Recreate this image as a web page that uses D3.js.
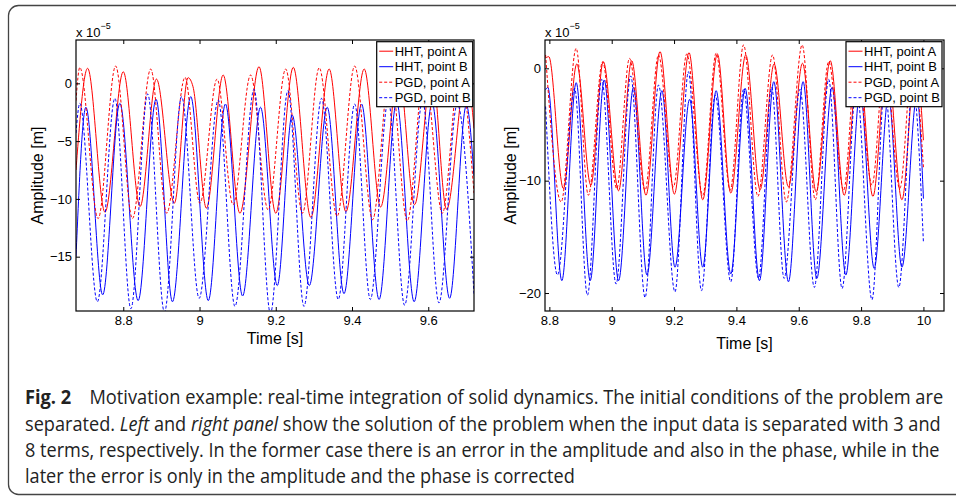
<!DOCTYPE html>
<html>
<head>
<meta charset="utf-8">
<script src="https://cdn.jsdelivr.net/npm/d3@7"></script>
<style>
  body { margin: 0; background: #fff; }
  svg { display: block; }
  .tick text { font-family: "Liberation Sans", Arial, sans-serif; font-size: 13px; fill: #000; }
  .caption { font-family: "Open Sans", sans-serif; font-size: 20px; fill: #222; }
</style>
</head>
<body>
<svg id="fig" width="956" height="497"></svg>
<script>
/** Values: [time (s), amplitude (x 1e-5 m)] at peaks and troughs */
const leftHhtA = [[8.676,-7.5],[8.7065,1.30],[8.752,-11.15],[8.800,1.0],[8.844,-10.66],[8.887,0.37],[8.934,-10.37],[8.970,0.49],[8.983,-0.3],[9.018,-10.8],[9.062,0.72],[9.106,-11.24],[9.156,1.44],[9.200,-11.24],[9.246,1.38],[9.292,-11.6],[9.340,1.24],[9.384,-11.1],[9.432,1.24],[9.475,-10.7],[9.522,1.2],[9.564,-10.5],[9.610,1.1],[9.648,-10.9],[9.700,1.0],[9.72,-3.9]];
const leftHhtB = [[8.676,-15.0],[8.702,-2.07],[8.746,-18.3],[8.791,-1.73],[8.839,-18.8],[8.886,-1.38],[8.929,-18.9],[8.977,-1.15],[9.023,-18.8],[9.068,-1.79],[9.113,-18.4],[9.160,-2.07],[9.204,-17.5],[9.243,-2.74],[9.288,-17.5],[9.335,-2.07],[9.379,-18.2],[9.425,-1.79],[9.471,-18.7],[9.517,-1.6],[9.563,-18.9],[9.610,-1.7],[9.656,-18.6],[9.700,-1.9],[9.72,-8.0]];
const leftPgdA = [[8.676,-1.5],[8.686,1.38],[8.734,-11.7],[8.780,1.50],[8.824,-11.7],[8.872,1.24],[8.914,-11.24],[8.962,0.52],[9.001,-10.37],[9.046,0.37],[9.088,-10.5],[9.134,0.72],[9.180,-10.95],[9.226,1.24],[9.270,-11.24],[9.314,1.35],[9.361,-11.5],[9.407,1.50],[9.454,-11.8],[9.500,1.3],[9.545,-11.9],[9.590,1.2],[9.637,-11.24],[9.682,1.2],[9.72,-9.5]];
const leftPgdB = [[8.676,-4.3],[8.686,-1.73],[8.732,-18.9],[8.778,-1.3],[8.820,-19.5],[8.864,-0.92],[8.908,-19.8],[8.953,-1.15],[8.999,-18.6],[9.049,-1.44],[9.093,-19.3],[9.143,-0.52],[9.186,-19.9],[9.232,-0.63],[9.274,-19.3],[9.320,-1.3],[9.364,-18.7],[9.407,-1.79],[9.448,-18.7],[9.495,-1.5],[9.538,-19.2],[9.585,-1.5],[9.628,-19.0],[9.676,-1.8],[9.72,-18.2]];

const rightHhtA = [[8.788,0.9],[8.798,1.04],[8.845,-10.7],[8.888,0.39],[8.933,-10.4],[8.973,0.59],[9.022,-10.9],[9.064,0.68],[9.110,-11.3],[9.155,1.49],[9.201,-11.2],[9.248,1.40],[9.292,-11.7],[9.339,1.28],[9.382,-11.1],[9.430,1.19],[9.476,-10.8],[9.521,0.39],[9.567,-10.55],[9.612,0.45],[9.656,-11.0],[9.701,0.68],[9.746,-11.3],[9.792,0.9],[9.838,-11.4],[9.883,0.9],[9.931,-11.7],[9.975,0.8],[10.0,-6.4]];
const rightHhtB = [[8.788,-1.9],[8.795,-1.7],[8.840,-18.9],[8.886,-1.28],[8.931,-18.9],[8.976,-1.04],[9.022,-18.9],[9.070,-1.69],[9.113,-18.4],[9.161,-1.99],[9.203,-17.7],[9.250,-2.76],[9.292,-17.7],[9.335,-1.99],[9.382,-18.3],[9.428,-1.78],[9.474,-18.9],[9.520,-1.19],[9.567,-19.0],[9.614,-1.19],[9.658,-18.7],[9.707,-1.69],[9.751,-18.4],[9.797,-2.0],[9.842,-17.8],[9.888,-2.5],[9.931,-17.7],[9.979,-2.5],[10.0,-11.6]];
const rightPgdA = [[8.788,1.19],[8.838,-11.9],[8.886,1.78],[8.925,-11.3],[8.971,0.59],[9.016,-10.7],[9.057,0.89],[9.107,-10.85],[9.150,1.19],[9.198,-10.55],[9.241,1.28],[9.292,-11.3],[9.335,1.34],[9.380,-10.85],[9.423,2.08],[9.469,-11.4],[9.516,1.19],[9.560,-11.9],[9.611,2.08],[9.653,-11.7],[9.696,0.59],[9.744,-10.85],[9.785,1.0],[9.835,-10.4],[9.876,1.0],[9.924,-10.7],[9.966,1.0],[10.0,-8.8]];
const rightPgdB = [[8.788,-3.4],[8.826,-18.4],[8.881,-1.78],[8.922,-20.2],[8.968,-0.98],[9.014,-19.2],[9.061,-0.68],[9.107,-20.4],[9.150,-1.49],[9.203,-19.9],[9.246,-0.30],[9.288,-19.8],[9.332,-2.38],[9.382,-19.0],[9.423,-1.87],[9.471,-18.7],[9.513,-1.69],[9.553,-18.7],[9.604,-1.87],[9.650,-19.5],[9.696,-0.98],[9.739,-19.6],[9.785,-1.5],[9.835,-20.6],[9.876,-1.5],[9.921,-19.5],[9.966,-1.5],[10.0,-15.5]];

/** Ticks and labels */
const leftXTicks = [8.8, 9, 9.2, 9.4, 9.6];
const leftYTicks = [0, -5, -10, -15];
const rightXTicks = [8.8, 9, 9.2, 9.4, 9.6, 9.8, 10];
const rightYTicks = [0, -10, -20];
const legendLabels = ["HHT, point A", "HHT, point B", "PGD, point A", "PGD, point B"];
const xLabel = "Time [s]";
const yLabel = "Amplitude [m]";

const captionLines = [
  [{t: "Fig. 2", b: true}, {t: "\u2003Motivation example: real-time integration of solid dynamics. The initial conditions of the problem are"}],
  [{t: "separated. "}, {t: "Left", i: true}, {t: " and "}, {t: "right panel", i: true}, {t: " show the solution of the problem when the input data is separated with 3 and"}],
  [{t: "8 terms, respectively. In the former case there is an error in the amplitude and also in the phase, while in the"}],
  [{t: "later the error is only in the amplitude and the phase is corrected"}]
];

const svg = d3.select("#fig");
const font = "'Liberation Sans', Arial, sans-serif";

/** Outer frame */
svg.append("rect")
  .attr("x", 8.5).attr("y", 5.5)
  .attr("width", 980).attr("height", 489)
  .attr("rx", 10).attr("ry", 10)
  .attr("fill", "none")
  .attr("stroke", "#444")
  .attr("stroke-width", 1.3);

const seriesStyle = [
  {color: "#ff0000", dash: null},
  {color: "#0000ff", dash: null},
  {color: "#ff0000", dash: "3,2"},
  {color: "#0000ff", dash: "3,2"}
];

function drawPanel(cfg) {
  const x = d3.scaleLinear().domain(cfg.xDomain).range([cfg.x0, cfg.x1]);
  const y = d3.scaleLinear().domain(cfg.yDomain).range([cfg.y1, cfg.y0]);

  const g = svg.append("g").attr("id", cfg.id);

  g.append("clipPath").attr("id", cfg.id + "-clip")
    .append("rect")
    .attr("x", cfg.x0).attr("y", cfg.y0)
    .attr("width", cfg.x1 - cfg.x0).attr("height", cfg.y1 - cfg.y0);

  /** Curves */
  const line = d3.line()
    .x(d => x(d[0]))
    .y(d => y(d[1]))
    .curve(d3.curveMonotoneX);

  const lines = g.append("g").attr("clip-path", "url(#" + cfg.id + "-clip)");
  cfg.series.forEach((s, i) => {
    lines.append("path")
      .datum(s)
      .attr("d", line)
      .attr("fill", "none")
      .attr("stroke", seriesStyle[i].color)
      .attr("stroke-width", 1)
      .attr("stroke-dasharray", seriesStyle[i].dash);
  });

  /** Axes, ticks pointing inward like MATLAB */
  const fmt = d => d3.format("")(d).replace("-", "\u2212");
  g.append("g")
    .attr("transform", "translate(0," + cfg.y1 + ")")
    .call(d3.axisBottom(x).tickValues(cfg.xTicks).tickFormat(fmt).tickSizeInner(-4).tickSizeOuter(0).tickPadding(5));
  g.append("g")
    .attr("transform", "translate(0," + cfg.y0 + ")")
    .call(d3.axisTop(x).tickValues(cfg.xTicks).tickFormat("").tickSizeInner(-4).tickSizeOuter(0));
  g.append("g")
    .attr("transform", "translate(" + cfg.x0 + ",0)")
    .call(d3.axisLeft(y).tickValues(cfg.yTicks).tickFormat(fmt).tickSizeInner(-4).tickSizeOuter(0).tickPadding(4));
  g.append("g")
    .attr("transform", "translate(" + cfg.x1 + ",0)")
    .call(d3.axisRight(y).tickValues(cfg.yTicks).tickFormat("").tickSizeInner(-4).tickSizeOuter(0));
  g.selectAll(".domain").remove();
  g.selectAll(".tick line").attr("stroke", "#000");

  g.append("rect")
    .attr("x", cfg.x0).attr("y", cfg.y0)
    .attr("width", cfg.x1 - cfg.x0).attr("height", cfg.y1 - cfg.y0)
    .attr("fill", "none").attr("stroke", "#000").attr("stroke-width", 1.2);

  /** Exponent label */
  const expo = g.append("text")
    .attr("x", cfg.x0).attr("y", 37)
    .style("font-family", font).style("font-size", "13px");
  expo.append("tspan").text("x 10");
  expo.append("tspan").attr("dy", -8).style("font-size", "9px").text("\u22125");

  /** Axis titles */
  g.append("text")
    .attr("x", (cfg.x0 + cfg.x1) / 2).attr("y", cfg.xLabelY)
    .attr("text-anchor", "middle")
    .style("font-family", font).style("font-size", "16px")
    .text(xLabel);
  g.append("text")
    .attr("transform", "translate(" + cfg.yLabelX + "," + ((cfg.y0 + cfg.y1) / 2) + ") rotate(-90)")
    .attr("text-anchor", "middle")
    .style("font-family", font).style("font-size", "16px")
    .text(yLabel);

  /** Legend */
  const lg = g.append("g").attr("transform", "translate(" + cfg.legend.x + "," + cfg.legend.y + ")");
  lg.append("rect")
    .attr("width", cfg.legend.w).attr("height", 65)
    .attr("fill", "#fff").attr("stroke", "#000").attr("stroke-width", 1.2);
  legendLabels.forEach((label, i) => {
    const ly = 9.5 + i * 15.5;
    lg.append("line")
      .attr("x1", 2.5).attr("x2", 16.5).attr("y1", ly).attr("y2", ly)
      .attr("stroke", seriesStyle[i].color).attr("stroke-width", 1)
      .attr("stroke-dasharray", seriesStyle[i].dash);
    lg.append("text")
      .attr("x", 18).attr("y", ly + 4.7)
      .style("font-family", font).style("font-size", "13px")
      .text(label);
  });
}

drawPanel({
  id: "left", x0: 76, x1: 474, y0: 40, y1: 311,
  xDomain: [8.676, 9.72], yDomain: [-19.7, 3.75],
  xTicks: leftXTicks, yTicks: leftYTicks,
  series: [leftHhtA, leftHhtB, leftPgdA, leftPgdB],
  xLabelY: 344, yLabelX: 43,
  legend: {x: 376.7, y: 41.7, w: 96}
});

drawPanel({
  id: "right", x0: 545, x1: 944, y0: 40, y1: 311,
  xDomain: [8.786, 10.066], yDomain: [-21.6, 2.52],
  xTicks: rightXTicks, yTicks: rightYTicks,
  series: [rightHhtA, rightHhtB, rightPgdA, rightPgdB],
  xLabelY: 349, yLabelX: 516,
  legend: {x: 846, y: 41.7, w: 96}
});

/** Caption: squeeze each line horizontally to the width it has in the figure */
const capY = [404, 430.5, 457, 483];
const capEnd = [944, 941, 940, 575];
captionLines.forEach((parts, li) => {
  const holder = svg.append("g");
  const t = holder.append("text").attr("class", "caption").attr("x", 0).attr("y", 0);
  parts.forEach(p => {
    t.append("tspan")
      .style("font-weight", p.b ? "bold" : null)
      .style("font-style", p.i ? "italic" : null)
      .text(p.t);
  });
  const natural = t.node().getComputedTextLength();
  const sx = (capEnd[li] - 25) / natural;
  holder.attr("transform", "translate(25," + capY[li] + ") scale(" + sx + ",1)");
});
</script>
</body>
</html>
